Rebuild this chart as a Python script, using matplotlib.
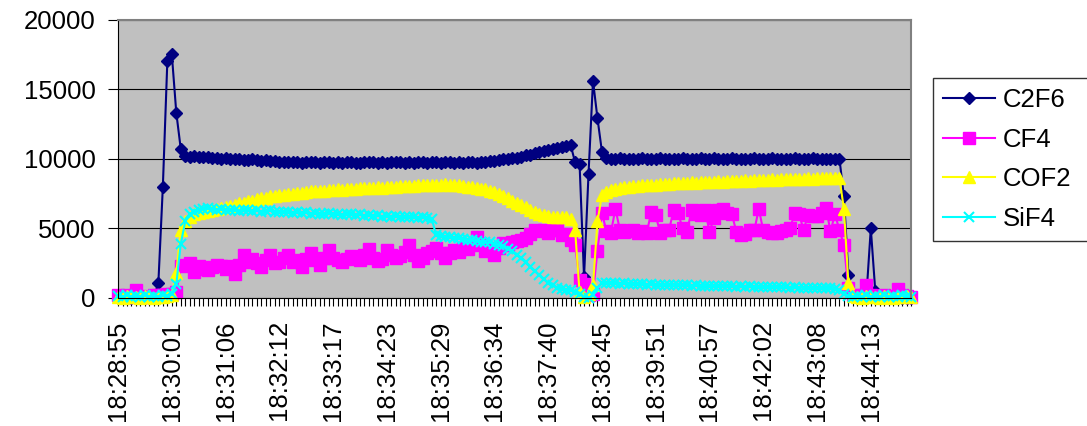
import matplotlib
matplotlib.use("Agg")
import matplotlib.pyplot as plt
from matplotlib.ticker import MultipleLocator

plt.rcParams['font.family'] = ['Liberation Sans', 'DejaVu Sans']

# time axis labels, one every 12 samples
tick_labels = ["18:28:55", "18:30:01", "18:31:06", "18:32:12", "18:33:17",
               "18:34:23", "18:35:29", "18:36:34", "18:37:40", "18:38:45",
               "18:39:51", "18:40:57", "18:42:02", "18:43:08", "18:44:13"]
label_step = 12

c2f6 = [0, 0, 0, 0, 0, 0, 0, 0, 0,
        1100, 8000, 17000, 17500, 13300, 10700,
        10200, 10150, 10180, 10120, 10100, 10130, 10050, 10080, 10000, 10020,
        9980, 9950, 9990, 9920, 9900, 9950, 9880, 9860, 9900, 9840, 9820,
        9800, 9760, 9790, 9740, 9780, 9720, 9760, 9800, 9750, 9730,
        9770, 9740, 9710, 9760, 9730, 9780, 9750, 9720, 9700, 9760,
        9740, 9780, 9730, 9760, 9720, 9750, 9790, 9740, 9710, 9760,
        9730, 9770, 9740, 9700, 9750, 9780, 9720, 9760, 9740, 9700,
        9750, 9730, 9770, 9740, 9720, 9760,
        9780, 9850, 9820, 9900, 9950, 10000, 10050, 10020, 10150, 10250,
        10300, 10400, 10500, 10550, 10650, 10700, 10750, 10850, 10900, 11000,
        9750, 9650, 1500, 8900, 15600, 12900, 10500,
        10050, 10000, 9980, 10020, 9970, 10010, 9990, 9960, 10030, 9980,
        10000, 9970, 10020, 9990, 9950, 10010, 9980, 10040, 9990, 9960,
        10000, 10030, 9970, 9990, 10020, 9960, 10000, 9980, 10030, 9970,
        9990, 10010, 9960, 10020, 9980, 10000, 9950, 10030, 9990, 9970,
        10010, 9980, 10020, 9960, 10000, 9990, 10030, 9970, 9980, 10010,
        9990, 9960, 10000,
        7300, 1650, 150, 0, 0, 50, 5000, 500,
        0, 0, 0, 0, 0, 0, 0, 0]

cf4 = [200, 100, 200, 100, 600, 150, 100, 100, 200, 250, 250, 300, 300, 400,
       2300,
       2400, 2500, 1900, 2300, 2100, 2000, 2200, 2400, 2300, 2100,
       2300, 1700, 2400, 3100, 2600, 2800, 2500, 2200, 2700, 3100,
       2500, 2600, 2900, 3100, 2600, 2750, 2200, 2800, 3200, 2700,
       2400, 2900, 3450, 2850, 2700, 2600, 2800, 3000, 2900, 2750,
       3100, 3550, 2900, 2650, 2800, 3450, 3100, 2900, 3000, 3300,
       3800, 3100, 2650, 2900, 3250, 3350, 3600, 3200, 2900, 3200,
       3450, 3300, 3600, 3500, 3800, 4400, 3900, 3350, 3500, 3100,
       3600, 3950, 3800, 4000, 4100, 4200, 4300, 4600, 4900, 4800,
       4850, 4700, 4900, 4850, 4550, 4600, 4200,
       3800, 1300, 1000, 200, 300, 3400, 6100,
       4800, 4700, 6400, 4900, 4750, 4800, 4850, 4700, 4800, 4650,
       6200, 5950, 4650, 4850, 4900, 6350, 6100, 5000, 4750, 6350,
       6000, 5950, 6350, 4750, 5750, 6300, 6400, 6100, 6000, 4750,
       4550, 4600, 4900, 4850, 6400, 4850, 4750, 4650, 4700, 4800,
       4900, 5000, 6100, 6000, 4900, 5950, 5900, 5900, 6100, 6450,
       4800, 6000, 4900,
       3800, 700,
       200, 150, 250, 900, 200, 150, 100, 200, 150, 100, 650, 200, 150, 100]

cof2 = [100, 0, 150, 50, 100, 0, 120, 80, 0, 100, 50, 150, 200,
        1800, 4900,
        5500, 5800, 6000, 6100, 6200, 6250, 6300, 6400, 6450, 6550,
        6600, 6700, 6800, 6850, 6950, 7000, 7100, 7150, 7200, 7300, 7350,
        7400, 7400, 7450, 7500, 7550, 7550, 7600, 7650, 7650, 7700,
        7700, 7750, 7750, 7800, 7780, 7820, 7850, 7830, 7870, 7900,
        7880, 7920, 7950, 7930, 7970, 8000, 7980, 8020, 8050, 8030,
        8070, 8100, 8080, 8120, 8150, 8100, 8130, 8170, 8120, 8100,
        8080, 8050, 8000, 7950, 7900, 7850, 7800, 7700, 7600, 7450,
        7300, 7150, 7000, 6850, 6700, 6500, 6350, 6200, 6050, 5950,
        5900, 5850, 5850, 5800, 5800, 5650,
        4900, 400, 100, 300, 900, 5500, 7400,
        7600, 7750, 7850, 7900, 7950, 8000, 8050, 8050, 8100, 8100,
        8150, 8150, 8200, 8180, 8220, 8250, 8230, 8270, 8250, 8300,
        8280, 8320, 8300, 8350, 8330, 8370, 8350, 8400, 8380, 8420,
        8400, 8450, 8430, 8470, 8450, 8500, 8480, 8520, 8500, 8540,
        8520, 8560, 8540, 8580, 8560, 8600, 8580, 8620, 8600, 8640,
        8620, 8650, 8600,
        6400, 1100, 150,
        100, 0, 150, 50, 100, 0, 120, 80, 0, 100, 50, 150, 80]

sif4 = [150, 100, 200, 100, 150, 50, 200, 100, 150, 100, 200, 150, 300,
        1000, 3900,
        5500, 6000, 6200, 6300, 6400, 6450, 6400, 6350, 6400, 6300,
        6350, 6300, 6250, 6300, 6350, 6250, 6300, 6200, 6250, 6300, 6200,
        6200, 6150, 6200, 6100, 6150, 6100, 6150, 6050, 6100, 6000,
        6050, 6100, 6000, 6050, 5950, 6000, 6050, 5950, 6000, 5900,
        5950, 5900, 5950, 5850, 5900, 5850, 5900, 5800, 5850, 5800,
        5850, 5750, 5800, 5750, 5700,
        4500, 4450, 4400, 4350, 4300, 4300, 4250, 4200, 4150, 4100,
        4050, 4000, 4000, 3900, 3800, 3700, 3550, 3350, 3100, 2850,
        2550, 2250, 1950, 1650, 1350, 1100, 900, 750, 650, 600,
        550,
        450, 300, 100, 0, 200, 700, 1100,
        1100, 1050, 1080, 1000, 1050, 1000, 1020, 980, 1000, 950,
        980, 950, 960, 920, 950, 900, 930, 900, 920, 880,
        900, 870, 890, 850, 880, 850, 860, 830, 850, 820,
        840, 800, 830, 790, 810, 780, 800, 770, 790, 760,
        780, 750, 760, 730, 750, 720, 740, 700, 720, 690,
        700, 650, 550,
        300, 150,
        100, 150, 50, 200, 100, 150, 100, 200, 50, 150, 100, 200, 150, 100]

x = list(range(len(c2f6)))

fig = plt.figure(figsize=(10.87, 4.26), dpi=100)
ax = fig.add_axes([0.1086, 0.3005, 0.7296, 0.6537])
ax.set_facecolor('#C0C0C0')

ax.plot(x, c2f6, color='#000080', marker='D', markersize=6.5, lw=1.5,
        label='C2F6', clip_on=False)
ax.plot(x, cf4, color='#FF00FF', marker='s', markersize=8.5, lw=1.5,
        label='CF4', clip_on=False)
ax.plot(x, cof2, color='#FFFF00', marker='^', markersize=8, lw=1.5,
        label='COF2', clip_on=False)
ax.plot(x, sif4, color='#00FFFF', marker='x', markersize=7, mew=1.5, lw=1.5,
        label='SiF4', clip_on=False)

ax.set_xlim(0, len(x) - 1)
ax.set_ylim(0, 20000)
ax.set_yticks([0, 5000, 10000, 15000, 20000])
ax.yaxis.grid(True, color='black', lw=0.8)
ax.set_axisbelow(True)

ax.set_xticks([i * label_step for i in range(len(tick_labels))])
ax.set_xticklabels(tick_labels, rotation=90)
ax.xaxis.set_minor_locator(MultipleLocator(1))
ax.tick_params(axis='x', which='both', direction='out', length=6, width=0.8,
               pad=10, labelsize=18.5)
ax.tick_params(axis='y', direction='out', length=7, width=0.8, pad=9,
               labelsize=18.5)

for side in ['top', 'right']:
    ax.spines[side].set_color('#808080')
    ax.spines[side].set_linewidth(1.5)
for side in ['left', 'bottom']:
    ax.spines[side].set_color('black')
    ax.spines[side].set_linewidth(0.8)

# legend box runs off the right edge of the figure
leg = fig.legend(loc='upper left', bbox_to_anchor=(0.8583, 0.3, 0.16, 0.5169),
                 mode='expand', borderaxespad=0,
                 fontsize=18.5, frameon=True, fancybox=False,
                 handlelength=2.0, handletextpad=0.33, labelspacing=0.6,
                 borderpad=0.4)
leg.get_frame().set_edgecolor('black')
leg.get_frame().set_linewidth(1.0)

fig.savefig('out.png', dpi=100, facecolor='white')
